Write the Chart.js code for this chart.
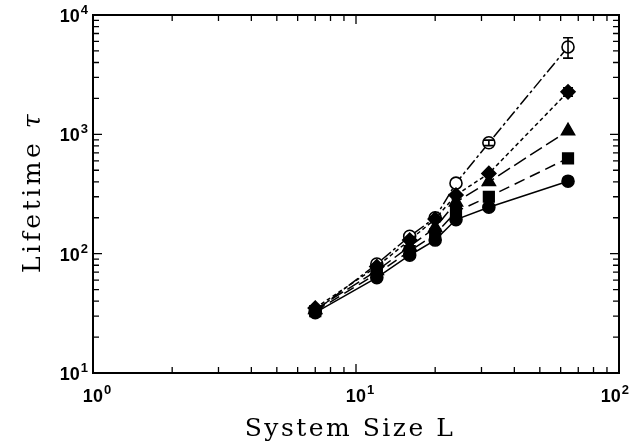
<!DOCTYPE html>
<html>
<head>
<meta charset="utf-8">
<script src="https://cdn.jsdelivr.net/npm/chart.js@4.4.0/dist/chart.umd.min.js"></script>
<style>
  html, body { margin: 0; padding: 0; background: #fff; }
  #wrap { width: 631px; height: 444px; }
</style>
</head>
<body>
<div id="wrap"><canvas id="lifeChart" width="631" height="444"></canvas></div>
<script>
// system sizes L
var sizes = [7, 12, 16, 20, 24, 32, 64];

// lifetime tau for each run
var tauCircle   = [32, 63, 97, 130, 193, 245, 405];
var tauSquare   = [33, 68, 105, 145, 225, 300, 630];
var tauTriangle = [34, 72, 115, 165, 270, 400, 1070];
var tauDiamond  = [35, 78, 130, 195, 310, 470, 2270];
var tauOpen     = [33, 82, 140, 200, 390, 850, 5400];

// error bars (only the big sizes show them)
var errDiamond = [0, 0, 0, 0, 0, 0, 180];
var errOpen    = [0, 0, 0, 0, 0, 45, 1050];

// tick labels as powers of ten
var xDecades = [0, 1, 2];
var yDecades = [1, 2, 3, 4];

function pts(ys) {
    return sizes.map(function (l, i) { return { x: l, y: ys[i] }; });
}

var radius = { circle: 6, rect: 7.5, triangle: 7.5, rectRot: 7 };

function series(label, ys, style, dash, fill, errs) {
    return {
        label: label,
        data: pts(ys),
        errs: errs || null,
        borderColor: '#000',
        borderWidth: 1.5,
        borderDash: dash,
        pointStyle: style,
        pointRadius: radius[style],
        pointBackgroundColor: fill,
        pointBorderColor: '#000',
        pointBorderWidth: 1.6,
        tension: 0,
        fill: false
    };
}

var axesPlugin = {
    id: 'axesPlugin',
    afterDatasetsDraw: function (chart) {
        var ctx = chart.ctx;
        var xs = chart.scales.x, ys = chart.scales.y;
        var a = chart.chartArea;

        // error bars
        ctx.save();
        ctx.strokeStyle = '#000';
        ctx.lineWidth = 1.6;
        ctx.setLineDash([]);
        chart.data.datasets.forEach(function (ds) {
            if (!ds.errs) return;
            ds.data.forEach(function (p, i) {
                var e = ds.errs[i];
                if (!e) return;
                var px = xs.getPixelForValue(p.x);
                var top = ys.getPixelForValue(p.y + e);
                var bot = ys.getPixelForValue(p.y - e);
                ctx.beginPath();
                ctx.moveTo(px, top); ctx.lineTo(px, bot);
                ctx.moveTo(px - 5, top); ctx.lineTo(px + 5, top);
                ctx.moveTo(px - 5, bot); ctx.lineTo(px + 5, bot);
                ctx.stroke();
            });
        });

        // frame
        ctx.lineWidth = 2;
        ctx.strokeRect(a.left, a.top, a.right - a.left, a.bottom - a.top);

        // ticks on all four sides, pointing in
        ctx.lineWidth = 1.3;
        var d, m, v, p, len;
        for (d = 0; d < 2; d++) {
            for (m = 1; m < 10; m++) {
                v = m * Math.pow(10, d);
                if (m === 1 && d === 0) continue;
                p = xs.getPixelForValue(v);
                len = m === 1 ? 9 : 6;
                ctx.beginPath();
                ctx.moveTo(p, a.bottom); ctx.lineTo(p, a.bottom - len);
                ctx.moveTo(p, a.top); ctx.lineTo(p, a.top + len);
                ctx.stroke();
            }
        }
        for (d = 1; d < 4; d++) {
            for (m = 1; m < 10; m++) {
                v = m * Math.pow(10, d);
                if (m === 1 && d === 1) continue;
                p = ys.getPixelForValue(v);
                len = m === 1 ? 9 : 6;
                ctx.beginPath();
                ctx.moveTo(a.left, p); ctx.lineTo(a.left + len, p);
                ctx.moveTo(a.right, p); ctx.lineTo(a.right - len, p);
                ctx.stroke();
            }
        }

        // tick labels: 10 with superscript
        ctx.fillStyle = '#000';
        ctx.textBaseline = 'alphabetic';
        var big = 'bold 18px "Liberation Sans", Arial, sans-serif';
        var small = 'bold 13px "Liberation Sans", Arial, sans-serif';
        function power(txt, sup, cx, base, align) {
            ctx.font = big;
            var w1 = ctx.measureText(txt).width;
            ctx.font = small;
            var w2 = ctx.measureText(sup).width;
            var tot = w1 + w2 + 1;
            var x0 = align === 'right' ? cx - tot : cx - tot / 2;
            if (x0 + tot > chart.width - 2) x0 = chart.width - 2 - tot;
            ctx.textAlign = 'left';
            ctx.font = big;
            ctx.fillText(txt, x0, base);
            ctx.font = small;
            ctx.fillText(sup, x0 + w1 + 1, base - 8);
        }
        xDecades.forEach(function (e) {
            power('10', String(e), xs.getPixelForValue(Math.pow(10, e)) + 4, a.bottom + 29, 'center');
        });
        yDecades.forEach(function (e) {
            power('10', String(e), a.left - 5, ys.getPixelForValue(Math.pow(10, e)) + 7, 'right');
        });

        // axis titles
        var title = '25px "DejaVu Serif", serif';
        ctx.font = title;
        ctx.letterSpacing = '2.5px';
        ctx.textAlign = 'center';
        ctx.fillText('System Size L', (a.left + a.right) / 2 - 6, a.bottom + 63);

        ctx.translate(40, (a.top + a.bottom) / 2 - 2);
        ctx.rotate(-Math.PI / 2);
        ctx.letterSpacing = '3.5px';
        ctx.font = title;
        var w = ctx.measureText('Lifetime ').width;
        ctx.font = 'italic ' + title;
        var wt = ctx.measureText('\u03c4').width;
        ctx.textAlign = 'left';
        ctx.font = title;
        ctx.fillText('Lifetime ', -(w + wt) / 2, 0);
        ctx.font = 'italic ' + title;
        ctx.fillText('\u03c4', -(w + wt) / 2 + w, 0);
        ctx.restore();
    }
};

var ctx = document.getElementById('lifeChart').getContext('2d');
var lifeChart = new Chart(ctx, {
    type: 'line',
    data: {
        datasets: [
            series('circle', tauCircle, 'circle', [], '#000'),
            series('square', tauSquare, 'rect', [11, 6], '#000'),
            series('triangle', tauTriangle, 'triangle', [14, 5], '#000'),
            series('diamond', tauDiamond, 'rectRot', [4, 3], '#000', errDiamond),
            series('open', tauOpen, 'circle', [12, 3, 3, 3], '#fff', errOpen)
        ]
    },
    options: {
        responsive: false,
        animation: false,
        layout: { padding: { left: 93, right: 12, top: 15, bottom: 71 } },
        plugins: { legend: { display: false }, tooltip: { enabled: false } },
        scales: {
            x: {
                type: 'logarithmic',
                min: 1, max: 100,
                grid: { display: false, drawTicks: false },
                border: { display: false },
                ticks: { display: false }
            },
            y: {
                type: 'logarithmic',
                min: 10, max: 10000,
                grid: { display: false, drawTicks: false },
                border: { display: false },
                ticks: { display: false }
            }
        }
    },
    plugins: [axesPlugin]
});
</script>
</body>
</html>
